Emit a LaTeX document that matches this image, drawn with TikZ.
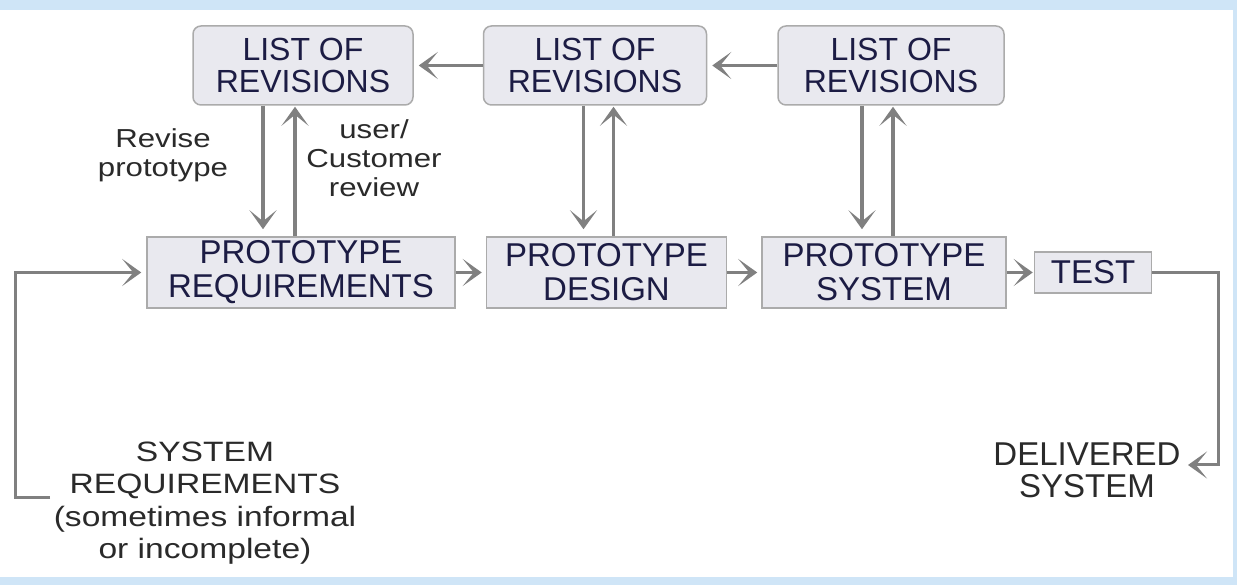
\documentclass[tikz,border=0pt]{standalone}
\usepackage{fontspec}
\setmainfont{Liberation Sans}
\newfontfamily\widefont[FakeStretch=1.2]{Liberation Sans}
\usetikzlibrary{shapes.geometric, arrows.meta, positioning}
\definecolor{boxfill}{HTML}{E9E9EF}
\definecolor{boxline}{HTML}{ABABAB}
\definecolor{boxtext}{HTML}{1C1C44}
\definecolor{notetext}{HTML}{2A2A2A}
\definecolor{arrowgray}{HTML}{808080}
\definecolor{frameblue}{HTML}{CFE5F7}
\tikzstyle{revlist} = [rectangle,
	rounded corners=8pt,
	minimum width=220pt,
	minimum height=79pt,
	inner sep=0pt,
	text centered,
	align=center,
	draw=boxline,
	line width=1.5pt,
	fill=boxfill,
	text=boxtext,
	font=\fontsize{32}{32}\selectfont
	]
\tikzstyle{stage} = [rectangle,
	minimum height=71pt,
	inner sep=0pt,
	text centered,
	align=center,
	draw=boxline,
	line width=1.5pt,
	fill=boxfill,
	text=boxtext,
	font=\fontsize{33}{34}\selectfont
	]
\tikzstyle{note} = [align=center,
	inner sep=2pt,
	text=notetext,
	font=\widefont\fontsize{26}{29}\selectfont
	]
\tikzstyle{arrow} = [line width=3.5pt, draw=arrowgray, -{Stealth[length=19pt,width=27pt,inset=11pt]}]
\tikzstyle{line} = [line width=3pt, draw=arrowgray, -{Stealth[length=19pt,width=27pt,inset=11pt]}]

\begin{document}
\begin{tikzpicture}[x=1pt, y=1pt]

\useasboundingbox (0,0) rectangle (1237,585);
\fill[white] (0,0) rectangle (1237,585);
\fill[frameblue] (0,575) rectangle (1237,585);
\fill[frameblue] (1233,0) rectangle (1237,585);
\fill[frameblue] (0,0) rectangle (1237,8);

\node (rLone) [revlist] at (303,519.5) {LIST OF\\REVISIONS};
\node (rLtwo) [revlist, minimum width=223pt, right=69pt of rLone] {LIST OF\\REVISIONS};
\node (rLthree) [revlist, minimum width=226pt, right=70pt of rLtwo] {LIST OF\\REVISIONS};

\node (pReq) [stage, minimum width=308pt] at (301,312.5) {PROTOTYPE\\REQUIREMENTS};
\node (pDes) [stage, minimum width=240pt, right=30pt of pReq] {PROTOTYPE\\DESIGN};
\node (pSys) [stage, minimum width=244pt, right=34pt of pDes] {PROTOTYPE\\SYSTEM};
\node (test) [stage, minimum width=117pt, minimum height=41pt, right=27pt of pSys] {TEST};

\node (nRev) [note] at (163,430) {Revise\\prototype};
\node (nUser) [note] at (374,427) {user/\\Customer\\review};

\node (tSR) [note, font=\widefont\fontsize{28}{32.5}\selectfont] at (205,82) {SYSTEM\\REQUIREMENTS\\(sometimes informal\\or incomplete)};
\node (tDS) [note, font=\fontsize{33}{32}\selectfont] at (1087,115) {DELIVERED\\SYSTEM};

\coordinate (inStart) at (50,87);
\coordinate (inTurn) at (15,87);
\coordinate (outTurn) at (1218,120);
\coordinate (outTip) at (1188,120);

\draw [arrow, shorten >=5pt] (rLtwo.west) -- (rLone.east);
\draw [arrow, shorten >=5pt] (rLthree.west) -- (rLtwo.east);

\draw [arrow, shorten >=7pt] ([xshift=-40pt]rLone.south) -- ([xshift=-40pt]rLone.south |- pReq.north);
\draw [arrow, shorten >=1pt] ([xshift=-6pt]pReq.north) -- ([xshift=-6pt]pReq.north |- rLone.south);
\draw [arrow, shorten >=7pt] ([xshift=-11.5pt]rLtwo.south) -- ([xshift=-11.5pt]rLtwo.south |- pDes.north);
\draw [arrow, shorten >=1pt] ([xshift=7pt]pDes.north) -- ([xshift=7pt]pDes.north |- rLtwo.south);
\draw [arrow, shorten >=7pt] ([xshift=-29pt]rLthree.south) -- ([xshift=-29pt]rLthree.south |- pSys.north);
\draw [arrow, shorten >=1pt] ([xshift=9pt]pSys.north) -- ([xshift=9pt]pSys.north |- rLthree.south);

\draw [arrow, shorten >=4pt] (pReq) -- (pDes);
\draw [arrow, shorten >=4pt] (pDes) -- (pSys);
\draw [arrow, shorten >=1pt] (pSys) -- (test);

\draw [line, shorten >=5pt] (inStart) -- (inTurn) |- (pReq.west);
\draw [line] (test.east) -| (outTurn) -- (outTip);

\end{tikzpicture}
\end{document}
